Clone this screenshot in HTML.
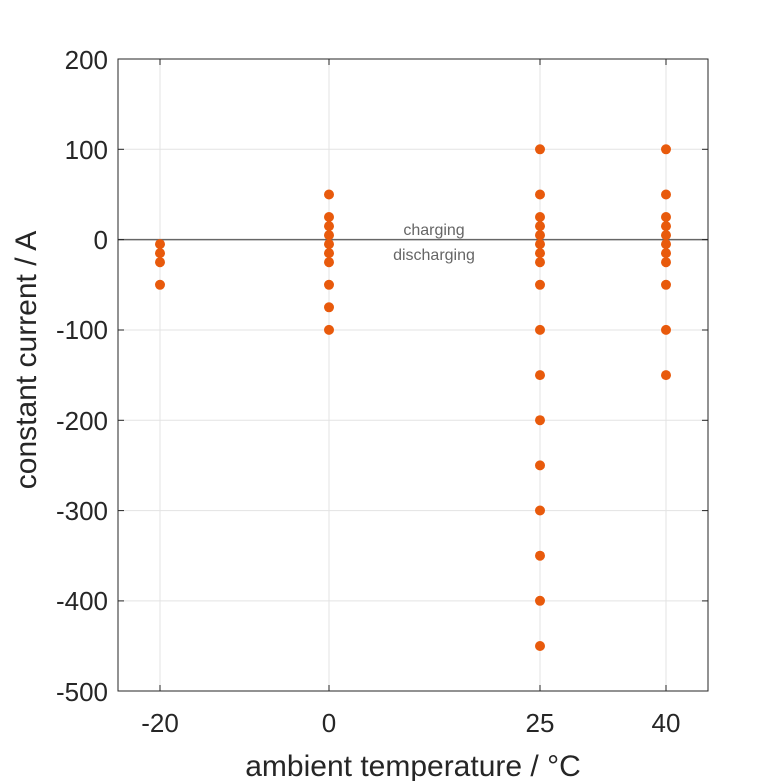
<!DOCTYPE html>
<html><head><style>body{margin:0;background:#fff}svg{display:block}</style></head><body>
<svg width="781" height="781" xmlns="http://www.w3.org/2000/svg" font-family="Liberation Sans, sans-serif">
<rect width="781" height="781" fill="#fff"/>
<g stroke="#e3e3e3" stroke-width="1">
<line x1="160" y1="59" x2="160" y2="691"/><line x1="329" y1="59" x2="329" y2="691"/><line x1="540" y1="59" x2="540" y2="691"/><line x1="666" y1="59" x2="666" y2="691"/>
<line x1="118" y1="149.3" x2="708" y2="149.3"/><line x1="118" y1="330" x2="708" y2="330"/><line x1="118" y1="420.3" x2="708" y2="420.3"/><line x1="118" y1="510.6" x2="708" y2="510.6"/><line x1="118" y1="600.9" x2="708" y2="600.9"/>
</g>
<line x1="118" y1="239.6" x2="708" y2="239.6" stroke="#666" stroke-width="1.5"/>
<rect x="118" y="59" width="590" height="632" fill="none" stroke="#262626" stroke-width="1"/>
<g stroke="#262626" stroke-width="1">
<line x1="160" y1="691" x2="160" y2="685"/><line x1="329" y1="691" x2="329" y2="685"/><line x1="540" y1="691" x2="540" y2="685"/><line x1="666" y1="691" x2="666" y2="685"/>
<line x1="160" y1="59" x2="160" y2="65"/><line x1="329" y1="59" x2="329" y2="65"/><line x1="540" y1="59" x2="540" y2="65"/><line x1="666" y1="59" x2="666" y2="65"/>
<line x1="118" y1="149.3" x2="124" y2="149.3"/><line x1="118" y1="239.6" x2="124" y2="239.6"/><line x1="118" y1="330" x2="124" y2="330"/><line x1="118" y1="420.3" x2="124" y2="420.3"/><line x1="118" y1="510.6" x2="124" y2="510.6"/><line x1="118" y1="600.9" x2="124" y2="600.9"/>
<line x1="708" y1="149.3" x2="702" y2="149.3"/><line x1="708" y1="239.6" x2="702" y2="239.6"/><line x1="708" y1="330" x2="702" y2="330"/><line x1="708" y1="420.3" x2="702" y2="420.3"/><line x1="708" y1="510.6" x2="702" y2="510.6"/><line x1="708" y1="600.9" x2="702" y2="600.9"/>
</g>
<g font-size="26" fill="#262626" text-anchor="end">
<text x="108" y="69">200</text><text x="108" y="159">100</text><text x="108" y="249">0</text><text x="108" y="339">-100</text><text x="108" y="430">-200</text><text x="108" y="520">-300</text><text x="108" y="610">-400</text><text x="108" y="701">-500</text>
</g>
<g font-size="26" fill="#262626" text-anchor="middle">
<text x="160" y="732">-20</text><text x="329" y="732">0</text><text x="540" y="732">25</text><text x="666" y="732">40</text>
<text x="413" y="776" font-size="30">ambient temperature / °C</text>
<text transform="translate(36,360) rotate(-90)" font-size="30">constant current / A</text>
</g>
<g font-size="16" fill="#666" text-anchor="middle">
<text x="434" y="235">charging</text><text x="434" y="260">discharging</text>
</g>
<g fill="#e85a0c">
<circle cx="160" cy="244.1" r="5"/><circle cx="160" cy="253.1" r="5"/><circle cx="160" cy="262.2" r="5"/><circle cx="160" cy="284.8" r="5"/>
<circle cx="329" cy="194.5" r="5"/><circle cx="329" cy="217.0" r="5"/><circle cx="329" cy="226.1" r="5"/><circle cx="329" cy="235.1" r="5"/><circle cx="329" cy="244.1" r="5"/><circle cx="329" cy="253.1" r="5"/><circle cx="329" cy="262.2" r="5"/><circle cx="329" cy="284.8" r="5"/><circle cx="329" cy="307.3" r="5"/><circle cx="329" cy="329.9" r="5"/>
<circle cx="540" cy="149.3" r="5"/><circle cx="540" cy="194.5" r="5"/><circle cx="540" cy="217.0" r="5"/><circle cx="540" cy="226.1" r="5"/><circle cx="540" cy="235.1" r="5"/><circle cx="540" cy="244.1" r="5"/><circle cx="540" cy="253.1" r="5"/><circle cx="540" cy="262.2" r="5"/><circle cx="540" cy="284.8" r="5"/><circle cx="540" cy="329.9" r="5"/><circle cx="540" cy="375.1" r="5"/><circle cx="540" cy="420.2" r="5"/><circle cx="540" cy="465.4" r="5"/><circle cx="540" cy="510.5" r="5"/><circle cx="540" cy="555.7" r="5"/><circle cx="540" cy="600.8" r="5"/><circle cx="540" cy="646.0" r="5"/>
<circle cx="666" cy="149.3" r="5"/><circle cx="666" cy="194.5" r="5"/><circle cx="666" cy="217.0" r="5"/><circle cx="666" cy="226.1" r="5"/><circle cx="666" cy="235.1" r="5"/><circle cx="666" cy="244.1" r="5"/><circle cx="666" cy="253.1" r="5"/><circle cx="666" cy="262.2" r="5"/><circle cx="666" cy="284.8" r="5"/><circle cx="666" cy="329.9" r="5"/><circle cx="666" cy="375.1" r="5"/>
</g>
</svg>
</body></html>
